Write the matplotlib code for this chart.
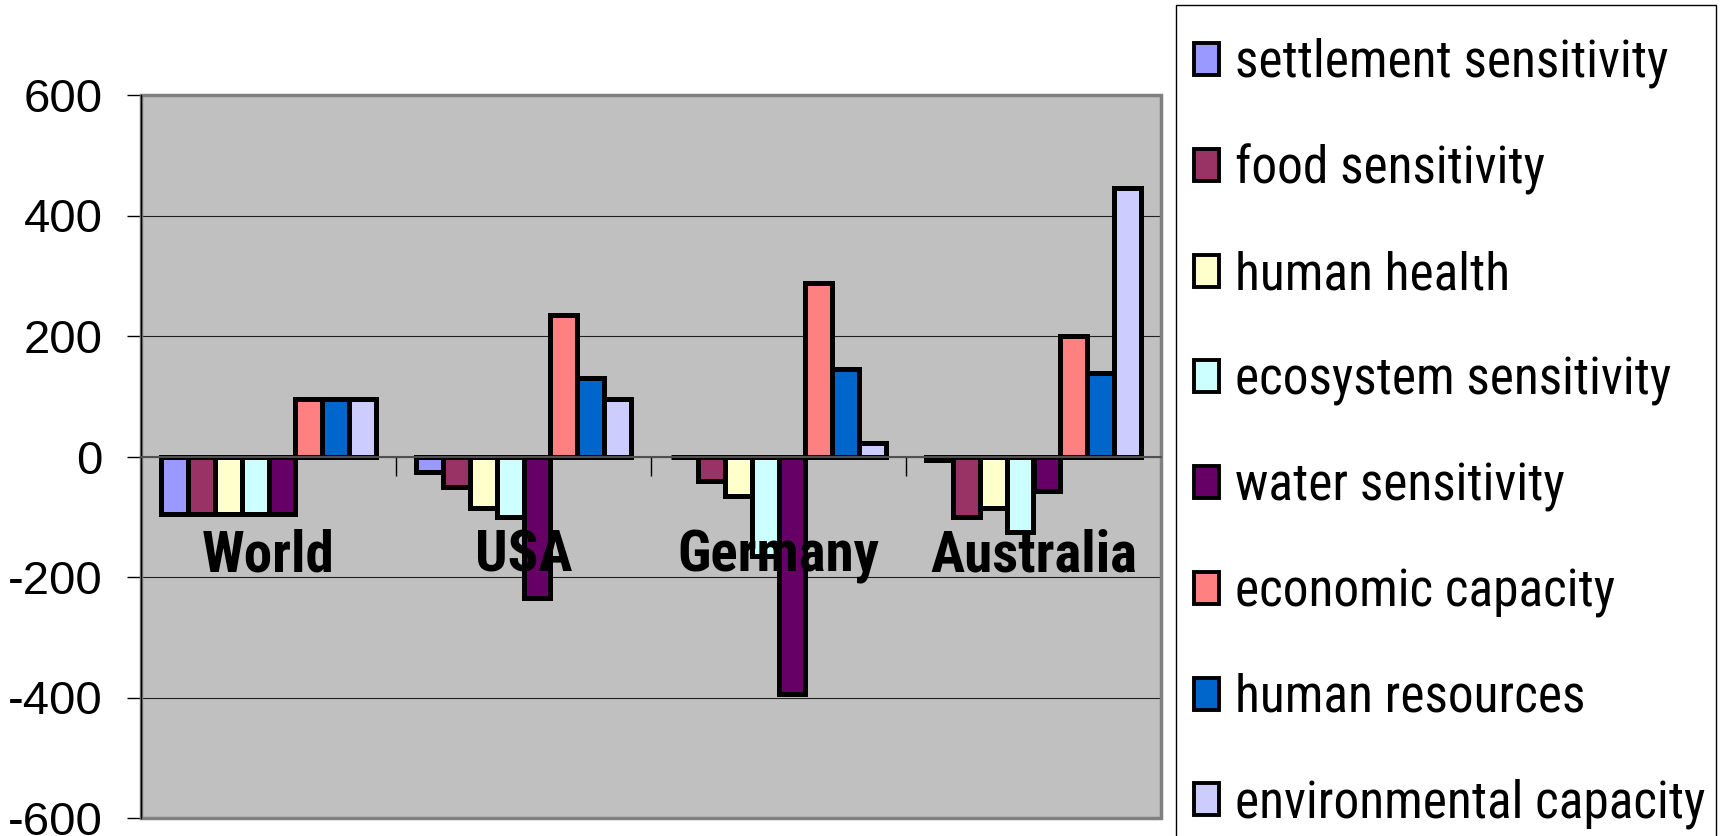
import numpy as np
import matplotlib
matplotlib.use("Agg")
import matplotlib.pyplot as plt
from matplotlib import font_manager as fm
from matplotlib.patches import Rectangle

regions = ["World", "USA", "Germany", "Australia"]
indicators = ["settlement sensitivity", "food sensitivity", "human health",
              "ecosystem sensitivity", "water sensitivity", "economic capacity",
              "human resources", "environmental capacity"]
colors = ["#9999FF", "#993366", "#FFFFCC", "#CCFFFF",
          "#660066", "#FF8080", "#0066CC", "#CCCCFF"]

# one list per indicator, values for World, USA, Germany, Australia
settlement = [-95, -25, 0, -6]
food = [-95, -50, -40, -100]
health = [-95, -85, -65, -85]
ecosystem = [-95, -100, -165, -125]
water = [-95, -235, -395, -57]
economic = [95, 235, 288, 200]
human_res = [95, 130, 145, 138]
environment = [95, 95, 22, 446]
series = [settlement, food, health, ecosystem, water, economic, human_res, environment]

yticks = [-600, -400, -200, 0, 200, 400, 600]


def find_narrow(bold):
    # look for a condensed sans face, best first
    prefs = ["Liberation Sans Narrow", "Arial Narrow", "Roboto Condensed",
             "Noto Sans", "Open Sans", "DejaVu Sans"]
    for name in prefs:
        for f in fm.fontManager.ttflist:
            if f.name != name:
                continue
            cond = ("Narrow" in name or "Condensed" in name or
                    "condensed" in str(f.stretch) or "Condensed" in f.fname)
            if not cond or "Semi" in f.fname or "Extra" in f.fname or f.style != "normal":
                continue
            wt = f.weight if isinstance(f.weight, int) else (700 if "bold" in str(f.weight) else 400)
            if (wt >= 600) == bold and (bold or wt == 400):
                return f.fname
    return None


reg_file = find_narrow(False)
bold_file = find_narrow(True)
if reg_file:
    leg_font = fm.FontProperties(fname=reg_file, size=37)
else:
    leg_font = fm.FontProperties(family=["Liberation Sans", "DejaVu Sans"], size=33)
if bold_file:
    cat_font = fm.FontProperties(fname=bold_file, size=41)
else:
    cat_font = fm.FontProperties(family=["Liberation Sans", "DejaVu Sans"], weight="bold", size=36)

W, H = 1729, 836
fig = plt.figure(figsize=(W / 100, H / 100), dpi=100)
ax = fig.add_axes([141 / W, 1 - 818 / H, (1161 - 141) / W, (818 - 95) / H])
ax.set_facecolor("#C0C0C0")

x = np.arange(len(regions))
w = 1 / 9.5
bars = []
for i, (vals, c, name) in enumerate(zip(series, colors, indicators)):
    b = ax.bar(x + (i - 3.5) * w, vals, width=w, color=c, edgecolor="black",
               linewidth=3.6, label=name, zorder=2)
    bars.append(b)

ax.set_xlim(-0.5, len(regions) - 0.5)
ax.set_ylim(yticks[0], yticks[-1])
ax.set_yticks(yticks)
ax.set_yticklabels([str(v) for v in yticks], fontsize=34,
                   family=["Liberation Sans", "DejaVu Sans"])
ax.tick_params(axis="y", length=10, width=1, pad=17.5, color="black")
ax.yaxis.grid(True, color="#202020", linewidth=0.8)
ax.set_axisbelow(True)

# category axis crosses at zero, ticks between the groups
ax.spines["bottom"].set_position(("data", 0))
ax.spines["bottom"].set_color("#505050")
ax.spines["bottom"].set_linewidth(1.5)
ax.set_xticks([])
ax.set_xticks(x + 0.5, minor=True)
ax.tick_params(axis="x", which="minor", length=14, width=1, direction="out", color="black")
for s in ["top", "right"]:
    ax.spines[s].set_visible(False)
ax.spines["left"].set_color("black")
ax.spines["left"].set_linewidth(1)

# grey frame round the plot area
ax.add_patch(Rectangle((0, 0), 1, 1, transform=ax.transAxes, fill=False,
                       edgecolor="#808080", linewidth=2.5, clip_on=False, zorder=0.6))

for xi, name in zip(x, regions):
    ax.annotate(name, xy=(xi, 0), xytext=(0, -83), textcoords="offset points",
                ha="center", va="baseline", fontproperties=cat_font, zorder=5)

# legend box runs off the bottom of the figure
fig.patches.append(Rectangle((1176 / W, -0.1), (1716 - 1176) / W, 1.1 - 5 / H,
                             transform=fig.transFigure, fill=False,
                             edgecolor="black", linewidth=1))
leg = ax.legend(handles=bars, loc="upper left",
                bbox_to_anchor=(1194 / W, 1 - 38 / H),
                bbox_transform=fig.transFigure, prop=leg_font, frameon=False,
                handlelength=0.49, handleheight=0.58, handletextpad=0.3,
                labelspacing=1.075, borderpad=0, borderaxespad=0)
for h in leg.legend_handles:
    h.set_linewidth(2.8)

fig.savefig("out.png", dpi=100)
